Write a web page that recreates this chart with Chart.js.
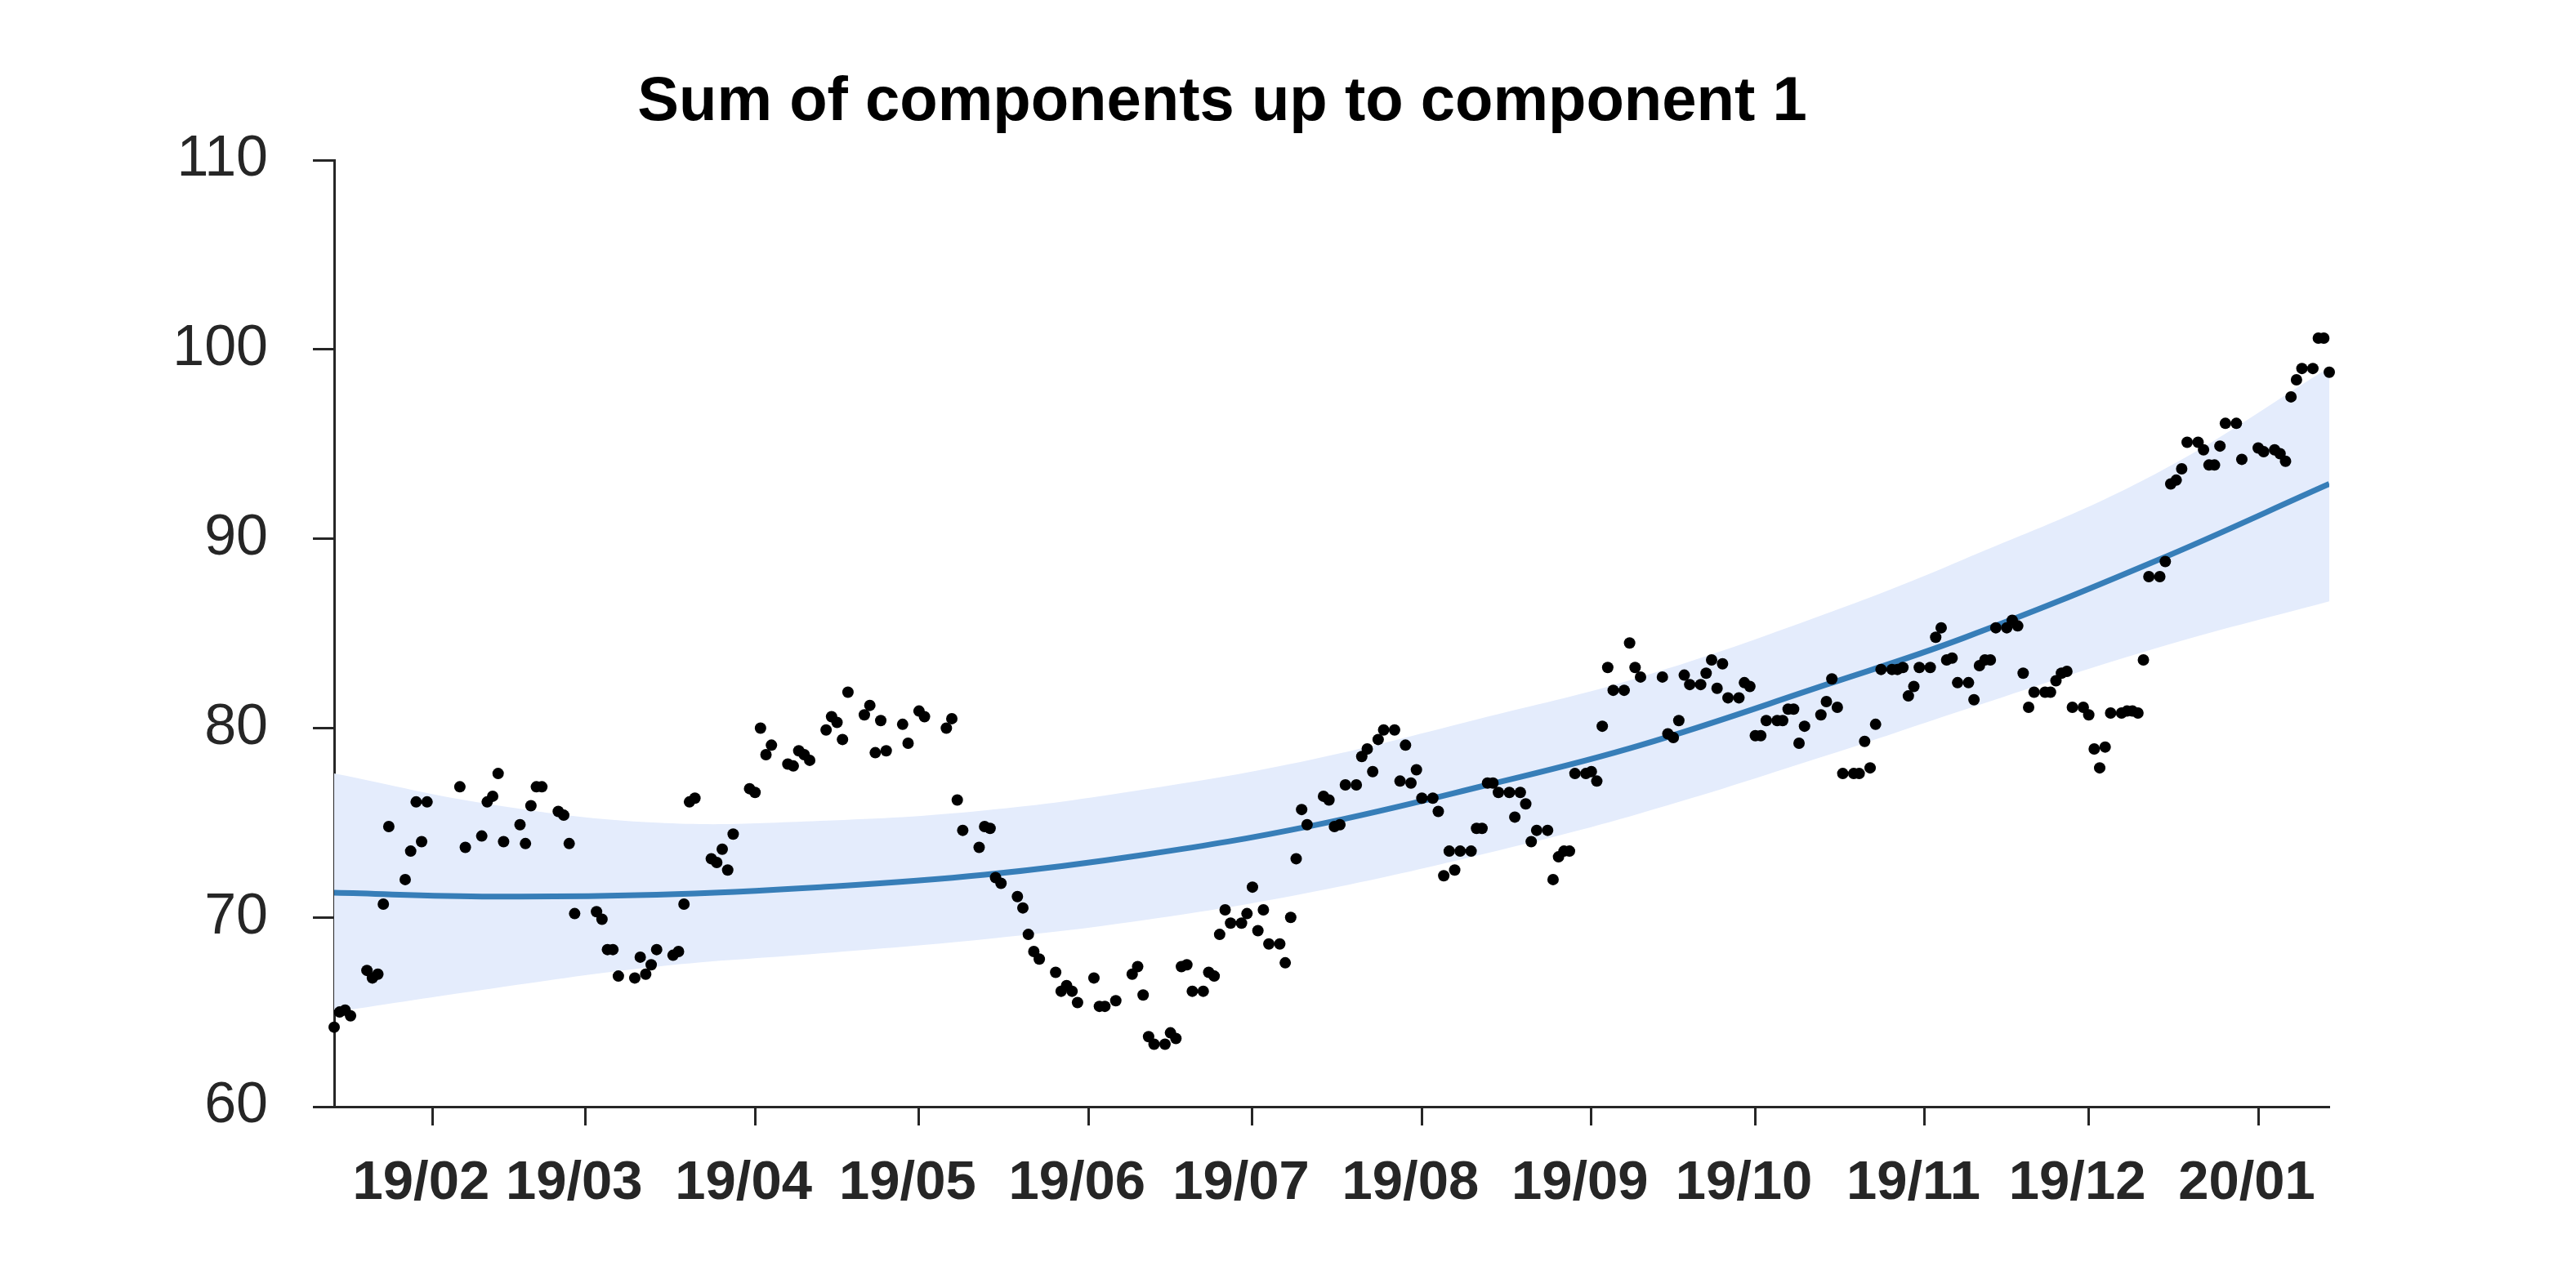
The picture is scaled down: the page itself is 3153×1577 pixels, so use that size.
<!DOCTYPE html>
<html>
<head>
<meta charset="utf-8">
<script src="https://cdn.jsdelivr.net/npm/chart.js@4.4.1/dist/chart.umd.min.js"></script>
<style>
  html, body { margin: 0; padding: 0; background: #fff; }
  canvas { display: block; }
</style>
</head>
<body>
<canvas id="chart" width="3153" height="1577"></canvas>
<script>
// observations, x = days counted from 2019-01-01
const obsDays = [
    13, 14, 15, 16, 19, 20, 21, 22, 23, 26, 27, 28, 29, 30, 36, 37, 40, 41, 42, 43, 44, 47, 48, 49, 50, 51, 54, 55, 56, 57,
    61, 62, 63, 64, 65, 68, 69, 70, 71, 72, 75, 76, 77, 78, 79, 82, 83, 84, 85, 86, 89, 90, 91, 92, 93, 96, 97, 98, 99, 100,
    103, 104, 105, 106, 107, 110, 111, 112, 113, 114, 117, 118, 120, 121, 125, 126, 127, 128, 131, 132, 133, 134, 135, 138, 139, 140, 141, 142,
    145, 146, 147, 148, 149, 152, 153, 154, 156, 159, 160, 161, 162, 163, 165, 166, 167, 168, 169, 170, 172, 173, 174, 175, 176, 177, 179, 180, 181, 182, 183, 184, 186, 187, 188, 189, 190, 191,
    194, 195, 196, 197, 198, 200, 201, 202, 203, 204, 205, 207, 208, 209, 210, 211, 212, 214, 215, 216, 217, 218, 219, 221, 222, 223, 224, 225, 226, 228, 229, 230, 231, 232, 233, 235, 236, 237, 238, 239, 240, 242, 243, 244,
    245, 246, 247, 249, 250, 251, 252, 256, 257, 258, 259, 260, 261, 263, 264, 265, 266, 267, 268, 270, 271, 272, 273, 274, 275, 277, 278, 279, 280, 281, 282, 285, 286, 287, 288, 289, 291, 292, 293, 294, 295,
    296, 298, 299, 300, 301, 302, 303, 305, 306, 307, 308, 309, 310, 312, 313, 314, 315, 316, 317, 319, 320, 321, 322, 323, 324, 326, 327, 328, 329, 330, 331, 333, 334, 335, 336, 337, 338, 340, 341, 342, 343, 344,
    345, 347, 348, 349, 350, 351, 352, 354, 355, 356, 357, 358, 359, 361, 362, 365, 366, 368, 369, 370, 371, 372, 373, 375, 376, 377, 378
];
const obsValues = [
    64.2, 65.0, 65.1, 64.8, 67.2, 66.8, 67.0, 70.7, 74.8, 72.0, 73.5, 76.1, 74.0, 76.1, 76.9, 73.7, 74.3, 76.1, 76.4, 77.6, 74.0, 74.9, 73.9, 75.9, 76.9, 76.9, 75.6, 75.4, 73.9, 70.2,
    70.3, 69.9, 68.3, 68.3, 66.9, 66.8, 67.9, 67.0, 67.5, 68.3, 68.0, 68.2, 70.7, 76.1, 76.3, 73.1, 72.9, 73.6, 72.5, 74.4, 76.8, 76.6, 80.0, 78.6, 79.1, 78.1, 78.0, 78.8, 78.6, 78.3,
    79.9, 80.6, 80.3, 79.4, 81.9, 80.7, 81.2, 78.7, 80.4, 78.8, 80.2, 79.2, 80.9, 80.6, 80.0, 80.5, 76.2, 74.6, 73.7, 74.8, 74.7, 72.1, 71.8, 71.1, 70.5, 69.1, 68.2, 67.8,
    67.1, 66.1, 66.4, 66.1, 65.5, 66.8, 65.3, 65.3, 65.6, 67.0, 67.4, 65.9, 63.7, 63.3, 63.3, 63.9, 63.6, 67.4, 67.5, 66.1, 66.1, 67.1, 66.9, 69.1, 70.4, 69.7, 69.7, 70.2, 71.6, 69.3, 70.4, 68.6, 68.6, 67.6, 70.0, 73.1, 75.7, 74.9,
    76.4, 76.2, 74.8, 74.9, 77.0, 77.0, 78.5, 78.9, 77.7, 79.4, 79.9, 79.9, 77.2, 79.1, 77.1, 77.8, 76.3, 76.3, 75.6, 72.2, 73.5, 72.5, 73.5, 73.5, 74.7, 74.7, 77.1, 77.1, 76.6, 76.6, 75.3, 76.6, 76.0, 74.0, 74.6, 74.6, 72.0, 73.2, 73.5, 73.5, 77.6, 77.6, 77.7, 77.2,
    80.1, 83.2, 82.0, 82.0, 84.5, 83.2, 82.7, 82.7, 79.7, 79.5, 80.4, 82.8, 82.3, 82.3, 82.9, 83.6, 82.1, 83.4, 81.6, 81.6, 82.4, 82.2, 79.6, 79.6, 80.4, 80.4, 80.4, 81.0, 81.0, 79.2, 80.1, 80.7, 81.4, 82.6, 81.1, 77.6, 77.6, 77.6, 79.3, 77.9, 80.2,
    83.1, 83.1, 83.1, 83.2, 81.7, 82.2, 83.2, 83.2, 84.8, 85.3, 83.6, 83.7, 82.4, 82.4, 81.5, 83.3, 83.6, 83.6, 85.3, 85.3, 85.7, 85.4, 82.9, 81.1, 81.9, 81.9, 81.9, 82.5, 82.9, 83.0, 81.1, 81.1, 80.7, 78.9, 77.9, 79.0, 80.8, 80.8, 80.9, 80.9, 80.8, 83.6,
    88.0, 88.0, 88.8, 92.9, 93.1, 93.7, 95.1, 95.1, 94.7, 93.9, 93.9, 94.9, 96.1, 96.1, 94.2, 94.8, 94.6, 94.7, 94.5, 94.1, 97.5, 98.4, 99.0, 99.0, 100.6, 100.6, 98.8
];

// fitted component 1 and its band, read at a few days
const fitDays  = [13,    42,    72,    102,   132,   161,   192,   224,   252,   286,   311,   346,   378];
const fitMean  = [71.3,  71.1,  71.2,  71.6,  72.25, 73.3,  74.85, 77.0,  79.1,  82.3,  84.75, 88.8,  92.9];
const fitUpper = [77.6,  75.95, 75.0,  75.1,  75.65, 76.75, 78.35, 80.6,  82.7,  86.05, 88.9,  93.4,  99.05];
const fitLower = [65.0,  66.25, 67.4,  68.1,  68.85, 69.85, 71.35, 73.4,  75.5,  78.55, 80.95, 84.2,  86.7];

const monthTickDays = [31, 59, 90, 120, 151, 181, 212, 243, 273, 304, 334, 365];
const monthTickLabels = ['19/02', '19/03', '19/04', '19/05', '19/06', '19/07', '19/08', '19/09', '19/10', '19/11', '19/12', '20/01'];
const yTickValues = [60, 70, 80, 90, 100, 110];

const axisColor = '#262626';
const fontFamily = "'Liberation Sans', Arial, Helvetica, sans-serif";

function toPoints(xs, ys) {
    return xs.map((x, i) => ({ x: x, y: ys[i] }));
}

const ctx = document.getElementById('chart').getContext('2d');

new Chart(ctx, {
    type: 'scatter',
    data: {
        datasets: [
            {
                label: 'observed',
                data: toPoints(obsDays, obsValues),
                pointRadius: 7,
                pointBackgroundColor: '#000',
                pointBorderWidth: 0,
                showLine: false,
                clip: false
            },
            {
                label: 'mean',
                data: toPoints(fitDays, fitMean),
                showLine: true,
                borderColor: '#377eb8',
                borderWidth: 7,
                pointRadius: 0,
                tension: 0.4,
                fill: false
            },
            {
                label: 'upper',
                data: toPoints(fitDays, fitUpper),
                showLine: true,
                borderWidth: 0,
                borderColor: 'rgba(0,0,0,0)',
                pointRadius: 0,
                tension: 0.4,
                fill: false
            },
            {
                label: 'lower',
                data: toPoints(fitDays, fitLower),
                showLine: true,
                borderWidth: 0,
                borderColor: 'rgba(0,0,0,0)',
                pointRadius: 0,
                tension: 0.4,
                backgroundColor: '#e4ecfc',
                fill: '-1'
            }
        ]
    },
    options: {
        responsive: false,
        animation: false,
        devicePixelRatio: 1,
        layout: { padding: { left: 141, right: 302, top: 0, bottom: 0 } },
        plugins: {
            legend: { display: false },
            tooltip: { enabled: false },
            title: {
                display: true,
                text: 'Sum of components up to component 1',
                color: '#000',
                font: { family: fontFamily, size: 76, weight: 'bold' },
                padding: { top: 80, bottom: 25 }
            }
        },
        scales: {
            x: {
                type: 'linear',
                min: 13,
                max: 378,
                afterBuildTicks: (scale) => {
                    scale.ticks = monthTickDays.map(v => ({ value: v }));
                },
                afterFit: (scale) => { scale.height = 222; },
                ticks: {
                    autoSkip: false,
                    maxRotation: 0,
                    padding: 31,
                    labelOffset: -14,
                    color: axisColor,
                    font: { family: fontFamily, size: 67, weight: 'bold' },
                    callback: (value) => monthTickLabels[monthTickDays.indexOf(value)]
                },
                grid: {
                    drawOnChartArea: false,
                    drawTicks: true,
                    tickLength: 23,
                    tickWidth: 3,
                    tickColor: axisColor
                },
                border: { display: true, color: axisColor, width: 3 }
            },
            y: {
                min: 60,
                max: 110,
                afterBuildTicks: (scale) => {
                    scale.ticks = yTickValues.map(v => ({ value: v }));
                },
                afterFit: (scale) => { scale.width = 268; },
                ticks: {
                    padding: 55,
                    color: axisColor,
                    font: { family: fontFamily, size: 70 }
                },
                grid: {
                    drawOnChartArea: false,
                    drawTicks: true,
                    tickLength: 26,
                    tickWidth: 3,
                    tickColor: axisColor
                },
                border: { display: true, color: axisColor, width: 3 }
            }
        }
    }
});
</script>
</body>
</html>
